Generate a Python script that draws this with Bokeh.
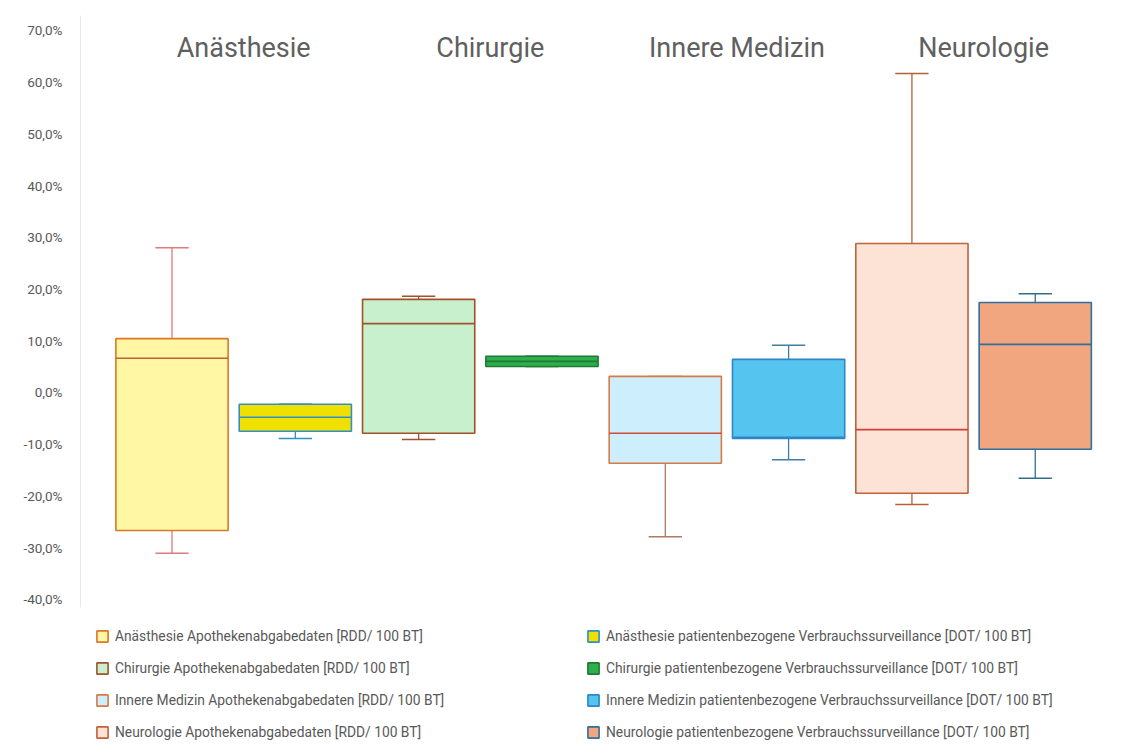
from bokeh.plotting import figure
from bokeh.layouts import column
from bokeh.models import (ColumnDataSource, Range1d, FixedTicker, CustomJSTickFormatter,
                          Legend, LegendItem)
from bokeh.core.properties import value
from bokeh.embed import file_html
from bokeh.resources import INLINE

# ---------------- data ----------------
series = [
    "Anästhesie Apothekenabgabedaten [RDD/ 100 BT]",
    "Anästhesie patientenbezogene Verbrauchssurveillance [DOT/ 100 BT]",
    "Chirurgie Apothekenabgabedaten [RDD/ 100 BT]",
    "Chirurgie patientenbezogene Verbrauchssurveillance [DOT/ 100 BT]",
    "Innere Medizin Apothekenabgabedaten [RDD/ 100 BT]",
    "Innere Medizin patientenbezogene Verbrauchssurveillance [DOT/ 100 BT]",
    "Neurologie Apothekenabgabedaten [RDD/ 100 BT]",
    "Neurologie patientenbezogene Verbrauchssurveillance [DOT/ 100 BT]",
]
lower_whisker = [-31.1, -8.9, -9.1, 5.0, -27.9, -13.0, -21.7, -16.6]
q1 = [-26.7, -7.5, -7.9, 5.0, -13.7, -8.9, -19.5, -11.0]
median = [6.6, -4.8, 13.3, 6.0, -7.9, -8.7, -7.2, 9.3]
q3 = [10.4, -2.3, 18.0, 7.0, 3.1, 6.4, 28.8, 17.4]
upper_whisker = [28.0, -2.3, 18.6, 7.0, 3.1, 9.1, 61.7, 19.1]

departments = ["Anästhesie", "Chirurgie", "Innere Medizin", "Neurologie"]
y_ticks = [-40, -30, -20, -10, 0, 10, 20, 30, 40, 50, 60, 70]

# legend order: left column (pharmacy data), right column (DOT)
legend_order = [0, 2, 4, 6, 1, 3, 5, 7]

# ---------------- styles ----------------
fill_colors = ["#FFF7A3", "#F0E000", "#C8F0CD", "#2DB04B",
               "#CDEEFC", "#55C4EF", "#FCE3D6", "#F2A67F"]
line_colors = ["#D9772B", "#2F8FC8", "#A0522D", "#1E7A35",
               "#D97A45", "#2F86C6", "#C0623A", "#2F6F9F"]
median_colors = ["#C0603A", "#2F8FC8", "#A0522D", "#1E7A35",
                 "#D04A3A", "#2F86C6", "#D0403A", "#2F6F9F"]
whisker_colors = ["#E07B7B", "#2F8FC8", "#A0522D", "#1E7A35",
                  "#B07A60", "#3F7F9F", "#B5603A", "#2F6F8F"]

BOX_W = 0.91
CAP_W = 0.27
TEXT_GREY = "#595959"

pos = list(range(len(series)))
src = ColumnDataSource(dict(
    x=pos,
    left=[p - BOX_W / 2 for p in pos],
    right=[p + BOX_W / 2 for p in pos],
    cap_l=[p - CAP_W / 2 for p in pos],
    cap_r=[p + CAP_W / 2 for p in pos],
    lw=lower_whisker, q1=q1, med=median, q3=q3, uw=upper_whisker,
    fill=fill_colors, line=line_colors, mcol=median_colors, wcol=whisker_colors,
))

p = figure(width=1130, height=612, output_backend="svg", toolbar_location=None,
           x_range=Range1d(-0.742, 7.74), y_range=Range1d(-41.6, 72.9),
           x_axis_location=None, min_border_left=80, min_border_right=4,
           min_border_top=15, min_border_bottom=5)
p.outline_line_color = None
p.xgrid.visible = False
p.ygrid.visible = False
p.background_fill_color = "white"
p.border_fill_color = "white"

# whiskers
p.segment(x0="x", y0="q3", x1="x", y1="uw", source=src, line_color="wcol", line_width=1.3)
p.segment(x0="x", y0="lw", x1="x", y1="q1", source=src, line_color="wcol", line_width=1.3)
p.segment(x0="cap_l", y0="uw", x1="cap_r", y1="uw", source=src, line_color="wcol", line_width=1.5)
p.segment(x0="cap_l", y0="lw", x1="cap_r", y1="lw", source=src, line_color="wcol", line_width=1.5)
# boxes
p.quad(left="left", right="right", bottom="q1", top="q3", source=src,
       fill_color="fill", line_color="line", line_width=1.6)
# medians
p.segment(x0="left", y0="med", x1="right", y1="med", source=src, line_color="mcol", line_width=1.6)

# department titles
title_src = ColumnDataSource(dict(
    x=[2 * i + 0.5 for i in range(len(departments))],
    y=[66.6] * len(departments),
    t=departments,
))
p.text(x="x", y="y", text="t", source=title_src, x_offset=10,
       text_align="center", text_baseline="middle",
       text_font=value("Roboto"), text_font_size="27px", text_color="#606060")

# y axis
p.yaxis.ticker = FixedTicker(ticks=y_ticks)
p.yaxis.formatter = CustomJSTickFormatter(code="return tick.toFixed(1).replace('.', ',') + '%';")
p.yaxis.major_tick_line_color = None
p.yaxis.minor_tick_line_color = None
p.yaxis.axis_line_color = "#E8E8E8"
p.yaxis.major_label_text_font = "Roboto"
p.yaxis.major_label_text_font_size = "13.5px"
p.yaxis.major_label_text_color = TEXT_GREY
p.yaxis.major_label_standoff = 12

# ---------------- legend (separate strip below the chart) ----------------
lg = figure(width=1130, height=142, output_backend="svg", toolbar_location=None,
            x_range=Range1d(100, 101), y_range=Range1d(100, 101),
            x_axis_location=None, y_axis_location=None,
            min_border_left=0, min_border_right=0, min_border_top=0, min_border_bottom=0)
lg.outline_line_color = None
lg.xgrid.visible = False
lg.ygrid.visible = False
swatches = lg.quad(left="left", right="right", bottom="q1", top="q3", source=src,
                   fill_color="fill", line_color="line", line_width=1.6)

items = [LegendItem(label=series[i], renderers=[swatches], index=i) for i in legend_order]
legend = Legend(items=items, location=(15, 12), orientation="vertical", nrows=4,
                glyph_width=14, glyph_height=14, label_height=20, label_standoff=6,
                label_width=459, spacing=12, padding=0, margin=0,
                label_text_font="Roboto", label_text_font_size="13.8px",
                label_text_color=TEXT_GREY, border_line_color=None,
                background_fill_alpha=0)
lg.add_layout(legend, "center")

layout = column(p, lg, spacing=0)
open("out.html", "w").write(file_html(layout, INLINE))
